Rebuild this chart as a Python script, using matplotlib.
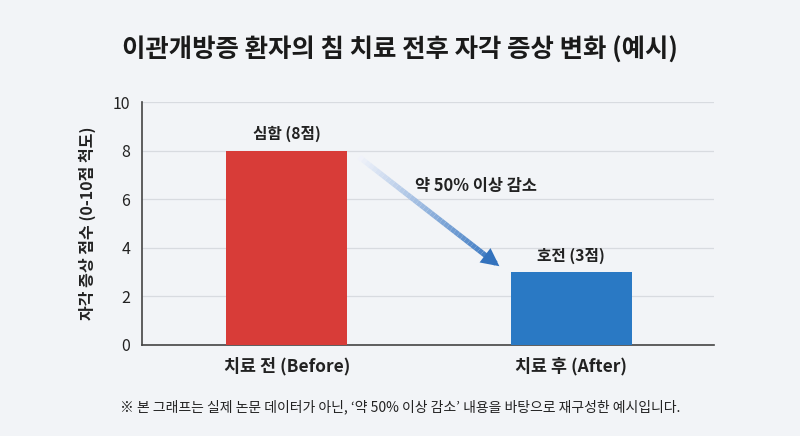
import matplotlib.pyplot as plt
import numpy as np

plt.rcParams['font.family'] = ['Noto Sans CJK KR', 'DejaVu Sans']

# data
categories = ["치료 전 (Before)", "치료 후 (After)"]
scores = [8, 3]
bar_labels = ["심함 (8점)", "호전 (3점)"]
bar_colors = ["#d83c38", "#2a79c4"]

bg = "#f2f4f7"
fig = plt.figure(figsize=(8, 4.36), dpi=100, facecolor=bg)
ax = fig.add_axes([0.177, 0.209, 0.715, 0.557])
ax.set_facecolor(bg)

x = np.arange(len(categories))
ax.bar(x, scores, width=0.427, color=bar_colors, zorder=3)
for xi, v, lab in zip(x, scores, bar_labels):
    ax.text(xi, v + 0.35, lab, ha="center", va="bottom", fontsize=11.3,
            fontweight="bold", color="#222222")

ax.set_xlim(-0.51, 1.5)
ax.set_ylim(0, 10)
ax.set_yticks(range(0, 11, 2))
ax.set_xticks(x)
ax.set_xticklabels(categories, fontsize=12.5, fontweight="bold", color="#222222")
ax.tick_params(axis="both", length=0)
ax.tick_params(axis="y", labelsize=11.5, colors="#222222", pad=8)
ax.tick_params(axis="x", pad=9)
ax.set_ylabel("자각 증상 점수 (0-10점 척도)", fontsize=11.5, fontweight="bold",
              color="#222222", labelpad=12)
ax.grid(axis="y", color="#d8dbe0", linewidth=0.9, zorder=0)
for s in ["top", "right"]:
    ax.spines[s].set_visible(False)
ax.spines["left"].set_color("#444444")
ax.spines["bottom"].set_color("#444444")
ax.spines["left"].set_linewidth(1.2)
ax.spines["bottom"].set_linewidth(1.2)

# gradient arrow
x0, y0, x1, y1 = 0.255, 7.73, 0.735, 3.35
n = 40
xs = np.linspace(x0, x1, n + 1)
ys = np.linspace(y0, y1, n + 1)
for i in range(n):
    t = i / n
    c = (1 - t) * np.array([0.94, 0.95, 0.98]) + t * np.array([0.20, 0.45, 0.75])
    ax.plot(xs[i:i + 2], ys[i:i + 2], color=c, linewidth=3.8, solid_capstyle="butt", zorder=4)
ax.annotate("", xy=(0.755, 3.17), xytext=(0.69, 3.75),
            arrowprops=dict(arrowstyle="-|>,head_length=1.3,head_width=0.65",
                            color="#3372bd", lw=0), zorder=5)
ax.text(0.664, 6.55, "약 50% 이상 감소", ha="center", va="center", fontsize=11.8,
        fontweight="bold", color="#222222")

fig.text(0.5, 0.885, "이관개방증 환자의 침 치료 전후 자각 증상 변화 (예시)",
         ha="center", va="center", fontsize=18.3, fontweight="bold", color="#1a1a1a")
fig.text(0.5, 0.067, "※ 본 그래프는 실제 논문 데이터가 아닌, ‘약 50% 이상 감소’ 내용을 바탕으로 재구성한 예시입니다.",
         ha="center", va="center", fontsize=10, color="#222222")

fig.savefig("out.png", dpi=100, facecolor=bg)
